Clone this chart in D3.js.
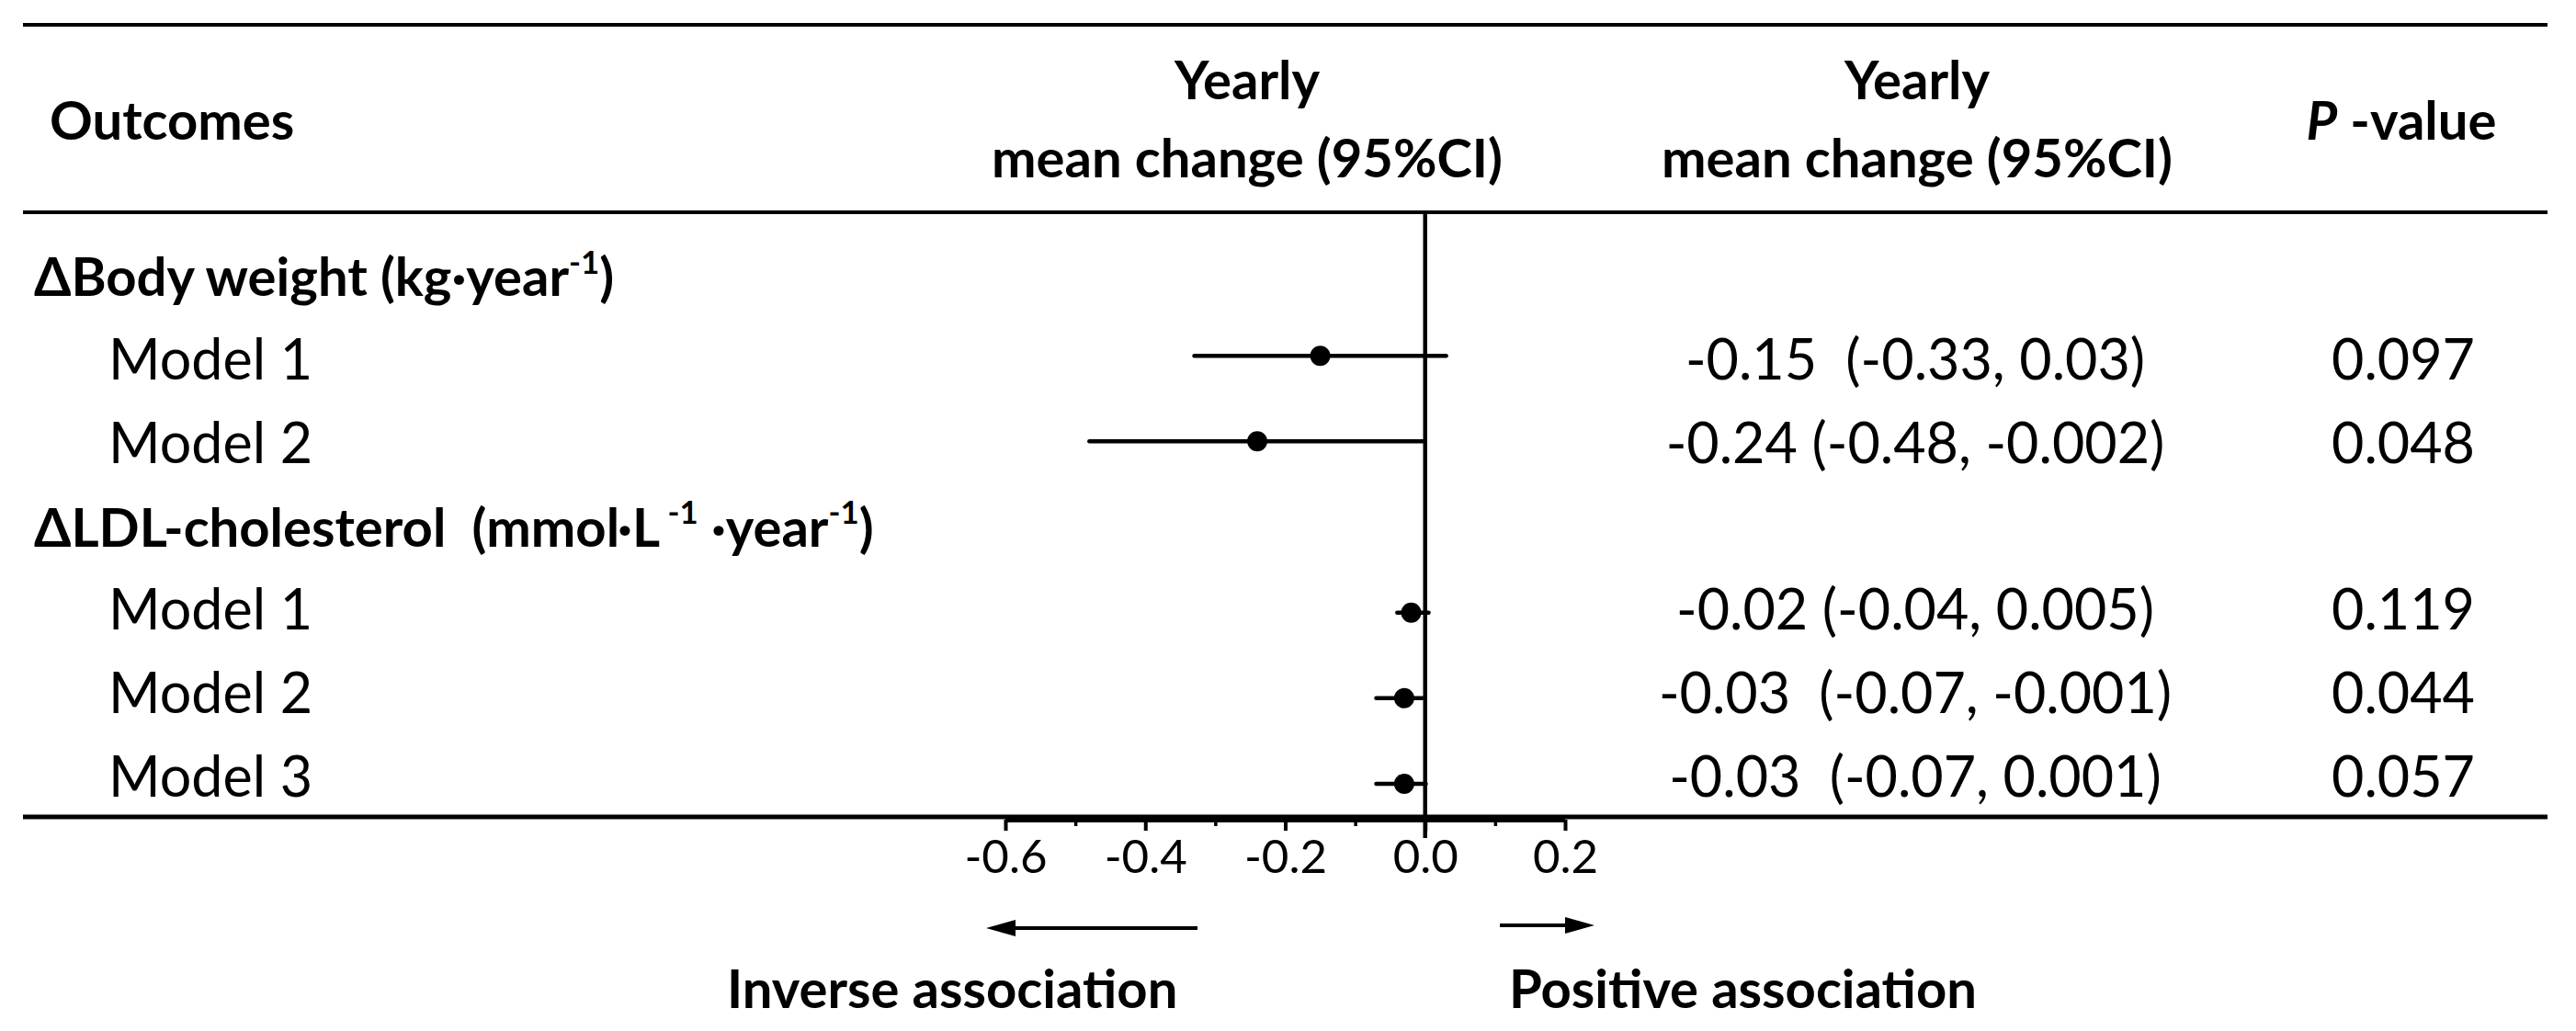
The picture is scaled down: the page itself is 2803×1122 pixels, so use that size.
<!DOCTYPE html>
<html>
<head>
<meta charset="utf-8">
<script src="https://cdn.jsdelivr.net/npm/d3@7"></script>
<style>
  body { margin: 0; background: #fff; }
  text { font-family: Lato, "Open Sans", sans-serif; fill: #000; white-space: pre; }
</style>
</head>
<body>
<div class="forestContainer"></div>
<script>
// rows of the table: group headers + models
var groupLabels = ["ΔBody weight", "ΔLDL-cholesterol"];
var rowLabels = ["Model 1", "Model 2", "Model 1", "Model 2", "Model 3"];
var rowGroup = [0, 0, 1, 1, 1];
var estimates = [-0.15, -0.24, -0.02, -0.03, -0.03];
var lower = [-0.33, -0.48, -0.04, -0.07, -0.07];
var upper = [0.03, -0.002, 0.005, -0.001, 0.001];
var ciLabels = ["-0.15  (-0.33, 0.03)", "-0.24 (-0.48, -0.002)", "-0.02 (-0.04, 0.005)",
                "-0.03  (-0.07, -0.001)", "-0.03  (-0.07, 0.001)"];
var pValues = ["0.097", "0.048", "0.119", "0.044", "0.057"];
var majorTicks = [-0.6, -0.4, -0.2, 0.0, 0.2];
var minorTicks = [-0.5, -0.3, -0.1, 0.1];

var svgWidth = 2803;
var svgHeight = 1122;
var fontBold = 58;
var fontReg = 61;

var svg = d3.select('div.forestContainer').append('svg')
    .attr('width', svgWidth).attr('height', svgHeight);

// table rows: index 0 = group 1 header, 3 = group 2 header
var rowIndex = [1, 2, 4, 5, 6];
var headerIndex = [0, 3];
var yText = d3.scalePoint().domain(d3.range(7)).range([322, 867]);
var yPlot = d3.scalePoint().domain(d3.range(7)).range([294, 853]);
var x = d3.scaleLinear().domain([-0.6, 0.2]).range([1094, 1703]);

// horizontal rules
var rules = [{y: 27, w: 4}, {y: 231, w: 4}, {y: 889, w: 5}];
svg.selectAll('line.rule')
   .data(rules)
   .enter()
   .append('line')
   .attr('class', 'rule')
   .attr('x1', 25).attr('x2', 2772)
   .attr('y1', function(d) { return d.y; })
   .attr('y2', function(d) { return d.y; })
   .attr('stroke', '#000')
   .attr('stroke-width', function(d) { return d.w; });

// column headers
svg.append('text').attr('x', 54).attr('y', 152)
   .attr('font-size', fontBold).attr('font-weight', 'bold').text('Outcomes');

[1357, 2086].forEach(function(cx) {
   var t = svg.append('text').attr('text-anchor', 'middle')
      .attr('font-size', fontBold).attr('font-weight', 'bold');
   t.append('tspan').attr('x', cx).attr('y', 108).text('Yearly');
   t.append('tspan').attr('x', cx).attr('y', 193).text('mean change (95%CI)');
});

var ph = svg.append('text').attr('x', 2613).attr('y', 152).attr('text-anchor', 'middle')
   .attr('font-size', fontBold).attr('font-weight', 'bold');
ph.append('tspan').attr('font-style', 'italic').text('P');
ph.append('tspan').text(' -value');

// group header labels with superscript units
var units = [
   [['(kg·year', 0], ['-1', 1], [')', 0]],
   [['(mmol·L', 0], [' -1', 1], [' ·year', 0], ['-1', 1], [')', 0]]
];
var supShift = fontBold * 0.42;
svg.selectAll('text.group')
   .data(groupLabels)
   .enter()
   .append('text')
   .attr('class', 'group')
   .attr('x', 37)
   .attr('y', function(d, i) { return yText(headerIndex[i]); })
   .attr('font-size', fontBold)
   .attr('font-weight', 'bold')
   .each(function(d, i) {
      var t = d3.select(this);
      var up = 0;
      t.append('tspan').text(d + (i === 1 ? '  ' : ' '));
      units[i].forEach(function(u) {
         var dy = u[1] ? -supShift : (up ? supShift : 0);
         up = u[1];
         t.append('tspan')
          .attr('font-size', u[1] ? fontBold * 0.6 : fontBold)
          .attr('dy', dy)
          .text(u[0]);
      });
   });

// model labels
svg.selectAll('text.model')
   .data(rowLabels)
   .enter()
   .append('text')
   .attr('class', 'model')
   .attr('x', 118)
   .attr('y', function(d, i) { return yText(rowIndex[i]); })
   .attr('font-size', fontReg)
   .text(function(d) { return d; });

// estimate text and p-values
svg.selectAll('text.ci')
   .data(ciLabels)
   .enter()
   .append('text')
   .attr('class', 'ci')
   .attr('x', 2084)
   .attr('y', function(d, i) { return yText(rowIndex[i]); })
   .attr('text-anchor', 'middle')
   .attr('font-size', fontReg)
   .text(function(d) { return d; });

svg.selectAll('text.pval')
   .data(pValues)
   .enter()
   .append('text')
   .attr('class', 'pval')
   .attr('x', 2615)
   .attr('y', function(d, i) { return yText(rowIndex[i]); })
   .attr('text-anchor', 'middle')
   .attr('font-size', fontReg)
   .text(function(d) { return d; });

// zero reference line
svg.append('line')
   .attr('x1', x(0)).attr('x2', x(0))
   .attr('y1', 229).attr('y2', 912)
   .attr('stroke', '#000').attr('stroke-width', 4.5);

// confidence intervals and points
svg.selectAll('line.ci')
   .data(estimates)
   .enter()
   .append('line')
   .attr('class', 'ci')
   .attr('x1', function(d, i) { return x(lower[i]); })
   .attr('x2', function(d, i) { return x(upper[i]); })
   .attr('y1', function(d, i) { return yPlot(rowIndex[i]); })
   .attr('y2', function(d, i) { return yPlot(rowIndex[i]); })
   .attr('stroke', '#000')
   .attr('stroke-width', 4.5)
   .attr('stroke-linecap', 'round');

svg.selectAll('circle')
   .data(estimates)
   .enter()
   .append('circle')
   .attr('cx', function(d) { return x(d); })
   .attr('cy', function(d, i) { return yPlot(rowIndex[i]); })
   .attr('r', 11)
   .attr('fill', '#000');

// x axis (plain hyphen for negatives, like the original)
var axisY = 892;
var axis = svg.append('g')
   .attr('transform', 'translate(0,' + axisY + ')')
   .call(d3.axisBottom(x).tickValues(majorTicks).tickSize(12).tickPadding(10)
      .tickFormat(function(d) { return d.toFixed(1); }));
axis.select('.domain').attr('stroke-width', 6).attr('d', 'M' + x(-0.6) + ',0H' + x(0.2));
axis.selectAll('.tick line').attr('stroke-width', 4);
axis.selectAll('.tick text')
   .attr('font-family', '"Liberation Sans", Arial, sans-serif')
   .attr('font-size', 51);

var minor = svg.append('g')
   .attr('transform', 'translate(0,' + axisY + ')')
   .call(d3.axisBottom(x).tickValues(minorTicks).tickSize(7).tickFormat(''));
minor.select('.domain').remove();
minor.selectAll('.tick line').attr('stroke-width', 3.5);

// direction arrows
var defs = svg.append('defs');
defs.append('marker')
   .attr('id', 'head')
   .attr('viewBox', '0 0 8 4.5')
   .attr('refX', 0).attr('refY', 2.25)
   .attr('markerWidth', 8).attr('markerHeight', 4.5)
   .attr('markerUnits', 'strokeWidth')
   .attr('orient', 'auto')
   .append('path').attr('d', 'M0,0L8,2.25L0,4.5Z').attr('fill', '#000');

var arrows = [{x1: 1303, x2: 1105, y: 1010}, {x1: 1632, x2: 1703, y: 1007}];
svg.selectAll('line.arrow')
   .data(arrows)
   .enter()
   .append('line')
   .attr('class', 'arrow')
   .attr('x1', function(d) { return d.x1; })
   .attr('x2', function(d) { return d.x2; })
   .attr('y1', function(d) { return d.y; })
   .attr('y2', function(d) { return d.y; })
   .attr('stroke', '#000')
   .attr('stroke-width', 4)
   .attr('marker-end', 'url(#head)');

svg.append('text').attr('x', 791).attr('y', 1097)
   .attr('font-size', fontBold).attr('font-weight', 'bold').text('Inverse association');
svg.append('text').attr('x', 1642).attr('y', 1097)
   .attr('font-size', fontBold).attr('font-weight', 'bold').text('Positive association');
</script>
</body>
</html>
